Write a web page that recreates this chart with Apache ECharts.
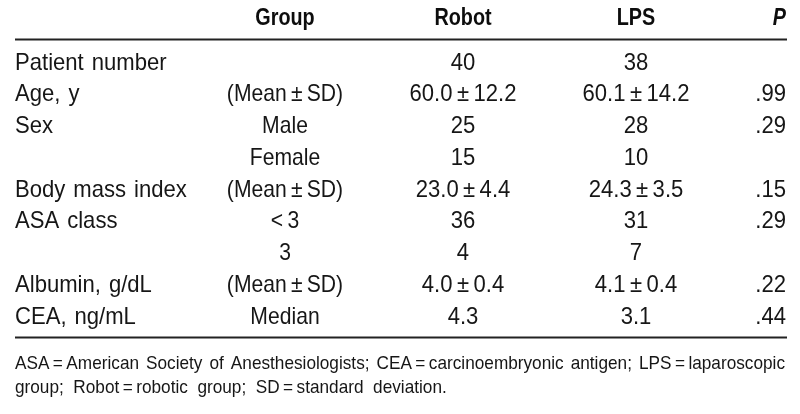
<!DOCTYPE html>
<html><head><meta charset="utf-8">
<script src="https://cdn.jsdelivr.net/npm/echarts@6/dist/echarts.min.js"></script>
<style>html,body{margin:0;padding:0;background:#fff}#c{width:800px;height:414px}</style>
</head><body><div id="c"></div>
<script>
// ---- data ----
const headers = ['', 'Group', 'Robot', 'LPS', 'P'];
const rowLabels = ['Patient number', 'Age, y', 'Sex', '', 'Body mass index', 'ASA class', '', 'Albumin, g/dL', 'CEA, ng/mL'];
const groupLabels = ['', '(Mean\u2009±\u2009SD)', 'Male', 'Female', '(Mean\u2009±\u2009SD)', '<\u20093', '3', '(Mean\u2009±\u2009SD)', 'Median'];
const robotValues = ['40', '60.0\u2009±\u200912.2', '25', '15', '23.0\u2009±\u20094.4', '36', '4', '4.0\u2009±\u20090.4', '4.3'];
const lpsValues = ['38', '60.1\u2009±\u200914.2', '28', '10', '24.3\u2009±\u20093.5', '31', '7', '4.1\u2009±\u20090.4', '3.1'];
const pValues = ['', '.99', '.29', '', '.15', '.29', '', '.22', '.44'];
const footLine1 = ['ASA\u2009=\u2009American', 'Society', 'of', 'Anesthesiologists;', 'CEA\u2009=\u2009carcinoembryonic', 'antigen;', 'LPS\u2009=\u2009laparoscopic'];
const footLine2 = 'group;  Robot\u2009=\u2009robotic  group;  SD\u2009=\u2009standard  deviation.';

// ---- layout / style ----
const FONT = '"Liberation Sans", Arial, Helvetica, sans-serif';
const columns = [rowLabels, groupLabels, robotValues, lpsValues, pValues];
const colAnchor = [15, 285, 463, 636, 786];
const colAlign = ['left', 'center', 'center', 'center', 'right'];
const colScale = [0.92, 0.88, 0.92, 0.92, 0.92];
const HEAD_SCALE = 0.86, FOOT_SCALE = 0.93;
const TEXT = '#161616';
const BODY_SIZE = 24, HEAD_SIZE = 23, FOOT_SIZE = 18.5;
const LEFT = 15, RIGHT = 787;

const chart = echarts.init(document.getElementById('c'), null, {renderer: 'canvas'});
const rowIdx = rowLabels.map((_, i) => String(i));

function textSeries(texts, anchor, align, scale, font, fill, xi) {
  return {
    type: 'custom', silent: true, xAxisIndex: xi, yAxisIndex: xi,
    data: texts.map((t, r) => [anchor, r]),
    renderItem: (params, api) => {
      const pt = api.coord([api.value(0), api.value(1)]);
      return {
        type: 'text', x: pt[0], y: pt[1], scaleX: scale,
        style: {text: texts[params.dataIndex].replace(/ /g, ' \u200A'), font: font, fill: fill, align: align, verticalAlign: 'middle'}
      };
    }
  };
}

const series = [];
headers.forEach((h, c) => {
  const font = (c === 4 ? 'italic ' : '') + 'bold ' + HEAD_SIZE + 'px ' + FONT;
  series.push(textSeries([h], colAnchor[c], colAlign[c], HEAD_SCALE, font, '#0d0d0d', 0));
});
columns.forEach((col, c) => {
  series.push(textSeries(col, colAnchor[c], colAlign[c], colScale[c], BODY_SIZE + 'px ' + FONT, TEXT, 1));
});

// footnote line 1 justified across the table width
const FOOT_FONT = FOOT_SIZE + 'px ' + FONT;
const ctx = document.createElement('canvas').getContext('2d');
ctx.font = FOOT_FONT;
const widths = footLine1.map(w => ctx.measureText(w).width * FOOT_SCALE);
const total = widths.reduce((a, b) => a + b, 0);
const gap = (RIGHT - 2 - LEFT - total) / (footLine1.length - 1);
const graphics = [
  {type: 'line', shape: {x1: LEFT, y1: 39.5, x2: RIGHT, y2: 39.5}, style: {stroke: '#222', lineWidth: 2}},
  {type: 'line', shape: {x1: LEFT, y1: 337.5, x2: RIGHT, y2: 337.5}, style: {stroke: '#222', lineWidth: 2}}
];
let x = LEFT;
footLine1.forEach((w, i) => {
  graphics.push({type: 'text', x: x, y: 364, scaleX: FOOT_SCALE, style: {text: w, font: FOOT_FONT, fill: TEXT, verticalAlign: 'middle'}});
  x += widths[i] + gap;
});
graphics.push({type: 'text', x: LEFT, y: 388, scaleX: FOOT_SCALE, style: {text: footLine2, font: FOOT_FONT, fill: TEXT, verticalAlign: 'middle'}});

chart.setOption({
  animation: false,
  backgroundColor: '#fff',
  grid: [
    {left: 0, right: 0, top: 3, height: 32},
    {left: 0, right: 0, top: 47, height: 285.75}
  ],
  xAxis: [
    {type: 'value', min: 0, max: 800, show: false, gridIndex: 0},
    {type: 'value', min: 0, max: 800, show: false, gridIndex: 1}
  ],
  yAxis: [
    {type: 'category', data: ['h'], show: false, gridIndex: 0},
    {type: 'category', data: rowIdx, inverse: true, show: false, gridIndex: 1}
  ],
  series: series,
  graphic: graphics
});
</script></body></html>
